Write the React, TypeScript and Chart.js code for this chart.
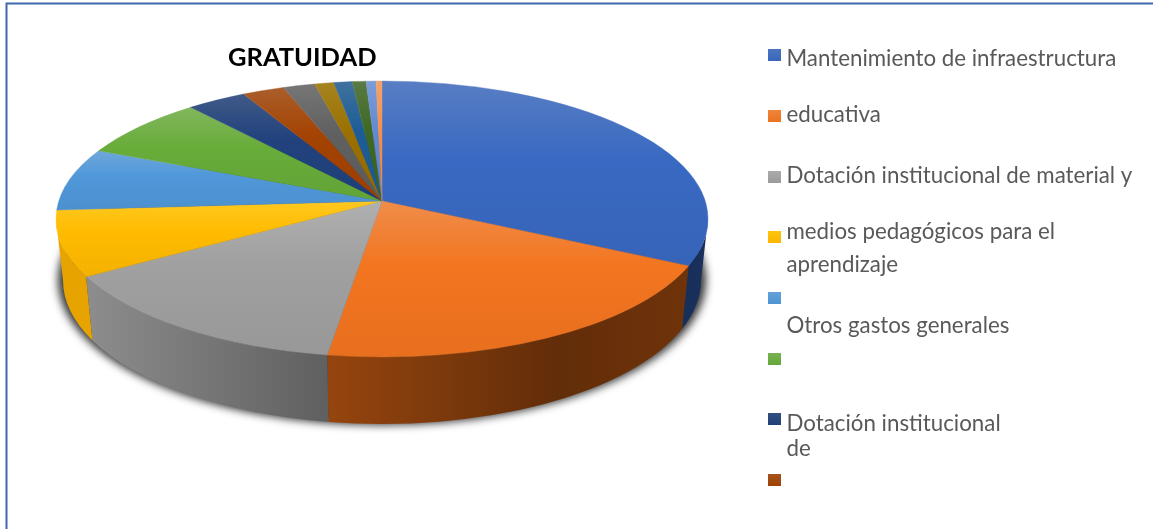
import React, { useEffect, useRef } from "react";
import { Chart, registerables } from "chart.js";

Chart.register(...registerables);

const chartTitle = "GRATUIDAD";
const sliceNames = [
  "Mantenimiento de infraestructura educativa",
  "Dotación institucional de material y medios pedagógicos para el aprendizaje",
  "Otros gastos generales",
  "Dotación institucional de",
  "Categoría 5", "Categoría 6", "Categoría 7", "Categoría 8", "Categoría 9",
  "Categoría 10", "Categoría 11", "Categoría 12", "Categoría 13", "Categoría 14",
];
const sliceValues = [32.44, 19.92, 13.92, 7.67, 7.42, 7.36, 3.36, 2.36, 1.78, 1.08, 1.03, 0.78, 0.56, 0.33];
const sliceColors = [
  "#416CBB", "#ED7D31", "#A5A5A5", "#FFC000", "#5B9BD5", "#70AD47", "#264478",
  "#9E480E", "#636363", "#997300", "#255E91", "#43682B", "#698ED0", "#F1975A",
];
const legendLines = [
  "Mantenimiento de infraestructura",
  "educativa",
  "Dotación institucional de material y",
  "medios pedagógicos para el",
  "aprendizaje",
  "Otros gastos generales",
  "Dotación institucional",
  "de",
];

// Layout constants (not data)
const TOP = { cx: 382, cy: 219, rx: 326, ry: 138 };
const BOTTOM = { cx: 382, cy: 280, rx: 319, ry: 144 };
const APEX_SHIFT = 18 / 138;
const LEGEND_BASELINES = [65.5, 121.5, 182.5, 238.5, 271.5, 332.5, 430.5, 455.5];
const MARKER_TOPS = [49, 110, 171, 231, 292, 353, 413, 474];
const WALL_STOPS: [number, number][] = [[0, 0.85], [0.055, 0.85], [0.415, 0.58], [0.77, 0.38], [1, 0.44]];

const rgb = (hex: string) => [1, 3, 5].map((i) => parseInt(hex.slice(i, i + 2), 16));
const css = (c: number[]) => `rgb(${c.map((v) => Math.round(Math.max(0, Math.min(255, v)))).join(",")})`;
const times = (c: number[], f: number) => c.map((v) => v * f);
const tint = (c: number[], f: number) => c.map((v) => v + (255 - v) * f);
const saturate = (c: number[], s: number) => {
  const lum = 0.3 * c[0] + 0.59 * c[1] + 0.11 * c[2];
  return c.map((v) => v + (v - lum) * s);
};

// angle on the round disc -> parameter on the tilted ellipse (perspective moves the apex up)
function rimParam(angle: number) {
  const a = angle + Math.PI / 2;
  const u = Math.sin(a);
  const v = -Math.cos(a);
  const e = APEX_SHIFT;
  const d = 1 - e * v;
  return Math.atan2((v - e) / d, (u * Math.sqrt(1 - e * e)) / d);
}

function sliceRange(arc: any) {
  let t0 = rimParam(arc.startAngle);
  let t1 = rimParam(arc.endAngle);
  const low = -Math.PI / 2 - 1e-6;
  while (t0 < low) t0 += Math.PI * 2;
  while (t1 < low) t1 += Math.PI * 2;
  if (t1 <= t0) t1 += Math.PI * 2;
  return [t0, t1];
}

const pie3d = {
  id: "pie3d",
  beforeDatasetsDraw(chart: any) {
    const { ctx, width } = chart;
    const arcs = chart.getDatasetMeta(0).data;
    const colors = chart.data.datasets[0].backgroundColor as string[];
    const apexY = TOP.cy - APEX_SHIFT * TOP.ry;

    ctx.save();
    // frame
    ctx.strokeStyle = "#3F68AC";
    ctx.lineWidth = 2;
    ctx.beginPath();
    ctx.moveTo(width, 3.5);
    ctx.lineTo(6.5, 3.5);
    ctx.lineTo(6.5, 529);
    ctx.stroke();

    // soft shadow under the disc
    ctx.save();
    ctx.shadowColor = "rgba(0,0,0,0.8)";
    ctx.shadowBlur = 9;
    ctx.shadowOffsetX = 3000;
    ctx.fillStyle = "#000";
    ctx.beginPath();
    ctx.ellipse(BOTTOM.cx - 3000, BOTTOM.cy, BOTTOM.rx + 5, BOTTOM.ry + 1, 0, 0, Math.PI * 2);
    ctx.fill();
    ctx.restore();

    // side wall
    arcs.forEach((arc: any, i: number) => {
      const [t0, t1] = sliceRange(arc);
      const a = Math.max(t0, 0);
      const b = Math.min(t1, Math.PI);
      if (a >= b) return;
      const base = saturate(rgb(colors[i]), 0.25);
      const g = ctx.createLinearGradient(TOP.cx - TOP.rx, 0, TOP.cx + TOP.rx, 0);
      WALL_STOPS.forEach(([p, f]) => g.addColorStop(p, css(times(base, f))));
      ctx.fillStyle = g;
      ctx.beginPath();
      ctx.ellipse(TOP.cx, TOP.cy, TOP.rx, TOP.ry, 0, a, b);
      ctx.ellipse(BOTTOM.cx, BOTTOM.cy, BOTTOM.rx, BOTTOM.ry, 0, b, a, true);
      ctx.closePath();
      ctx.fill();
    });

    // top face
    arcs.forEach((arc: any, i: number) => {
      const [t0, t1] = sliceRange(arc);
      let minY = apexY;
      let maxY = apexY;
      for (let k = 0; k <= 48; k++) {
        const y = TOP.cy + TOP.ry * Math.sin(t0 + ((t1 - t0) * k) / 48);
        minY = Math.min(minY, y);
        maxY = Math.max(maxY, y);
      }
      const base = rgb(colors[i]);
      const rich = saturate(base, 0.16);
      const g = ctx.createLinearGradient(0, minY, 0, maxY);
      g.addColorStop(0, css(tint(base, 0.12)));
      g.addColorStop(0.42, css(times(rich, 0.97)));
      g.addColorStop(1, css(times(rich, 0.92)));
      ctx.fillStyle = g;
      ctx.strokeStyle = g;
      ctx.lineWidth = 0.4;
      ctx.beginPath();
      ctx.moveTo(TOP.cx, apexY);
      ctx.ellipse(TOP.cx, TOP.cy, TOP.rx, TOP.ry, 0, t0, t1);
      ctx.closePath();
      ctx.fill();
      ctx.stroke();
    });

    // legend
    MARKER_TOPS.forEach((y, i) => {
      const base = rgb(colors[i]);
      const g = ctx.createLinearGradient(0, y, 0, y + 12);
      g.addColorStop(0, css(tint(base, 0.06)));
      g.addColorStop(1, css(times(saturate(base, 0.16), 0.94)));
      ctx.fillStyle = g;
      ctx.fillRect(768, y, 13, 12);
    });
    ctx.fillStyle = "#595959";
    ctx.font = "22.3px Lato";
    ctx.textBaseline = "alphabetic";
    legendLines.forEach((line, i) => ctx.fillText(line, 786.5, LEGEND_BASELINES[i]));
    ctx.restore();
    return false;
  },
};

export default function App() {
  const ref = useRef<HTMLCanvasElement>(null);
  useEffect(() => {
    const chart = new Chart(ref.current as HTMLCanvasElement, {
      type: "pie",
      data: {
        labels: sliceNames,
        datasets: [{ data: sliceValues, backgroundColor: sliceColors, borderWidth: 0 }],
      },
      options: {
        responsive: false,
        animation: false,
        layout: { padding: { left: 228, top: 42 } },
        plugins: {
          legend: { display: false },
          tooltip: { enabled: false },
          title: {
            display: true,
            text: chartTitle,
            align: "start",
            color: "#000000",
            font: { family: "Lato", size: 25.5, weight: "bold" },
            padding: { top: 0, bottom: 0 },
          },
        },
      },
      plugins: [pie3d],
    } as any);
    return () => chart.destroy();
  }, []);
  return (
    <div style={{ position: "fixed", left: 0, top: 0, width: 1153, height: 529, background: "#fff" }}>
      <canvas ref={ref} width={1153} height={529} style={{ display: "block" }} />
    </div>
  );
}
